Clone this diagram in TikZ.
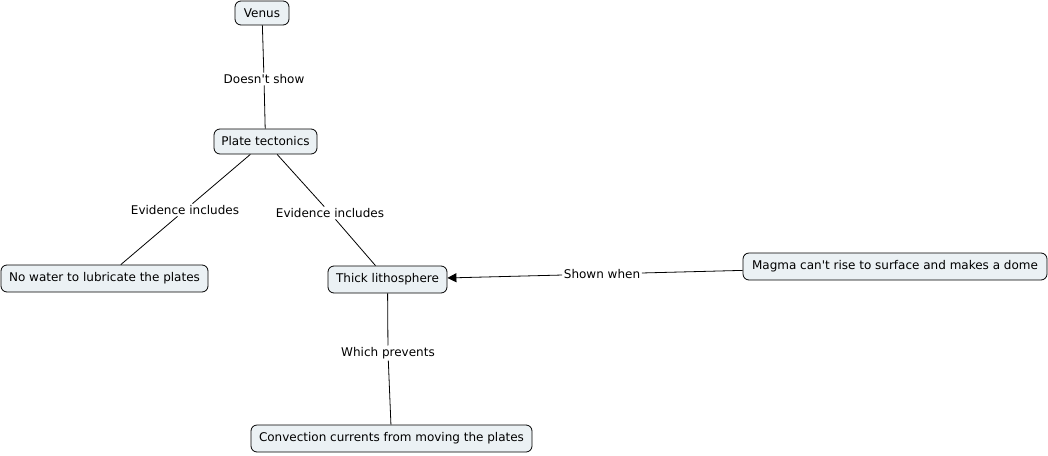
\documentclass[tikz,border=0pt]{standalone}
\usepackage{fontspec}
\setmainfont{DejaVu Sans}
\usetikzlibrary{arrows.meta}
\definecolor{cfill}{HTML}{EBF1F4}
\tikzset{
  concept/.style={draw=black, fill=cfill, rounded corners=6pt, line width=0.8pt,
    inner sep=0pt, align=center, font=\fontsize{12}{14}\selectfont},
  lbl/.style={inner sep=1.5pt, font=\fontsize{12}{14}\selectfont},
  link/.style={draw=black, line width=0.8pt},
}
\begin{document}
\begin{tikzpicture}[x=1pt,y=-1pt]
\useasboundingbox (0,0) rectangle (1048,455);
\node[concept, minimum width=54pt, minimum height=24pt] (venus) at (262,13) {Venus};
\node[concept, minimum width=103pt, minimum height=25pt] (plate) at (265.5,141.5) {Plate tectonics};
\node[concept, minimum width=207pt, minimum height=27pt] (water) at (104.5,278.5) {No water to lubricate the plates};
\node[concept, minimum width=119pt, minimum height=27pt] (thick) at (387.5,279.5) {Thick lithosphere};
\node[concept, minimum width=304pt, minimum height=27pt] (magma) at (895,266.5) {Magma can\textquotesingle t rise to surface and makes a dome};
\node[concept, minimum width=281pt, minimum height=27pt] (conv) at (391.5,438.5) {Convection currents from moving the plates};

\node[lbl] (l1) at (264,79) {Doesn\textquotesingle t show};
\node[lbl] (l2) at (185,210) {Evidence includes};
\node[lbl] (l3) at (330,213) {Evidence includes};
\node[lbl] (l4) at (602,274) {Shown when};
\node[lbl] (l5) at (388,353) {Which prevents};

\draw[link] (venus) -- (l1) -- (plate);
\draw[link] (plate) -- (l2) -- (water);
\draw[link] (plate) -- (l3) -- (thick);
\draw[link] (magma) -- (l4);
\draw[link, -{Triangle[length=9pt,width=9pt]}] (l4) -- (thick);
\draw[link] (thick) -- (l5) -- (conv);
\end{tikzpicture}
\end{document}
